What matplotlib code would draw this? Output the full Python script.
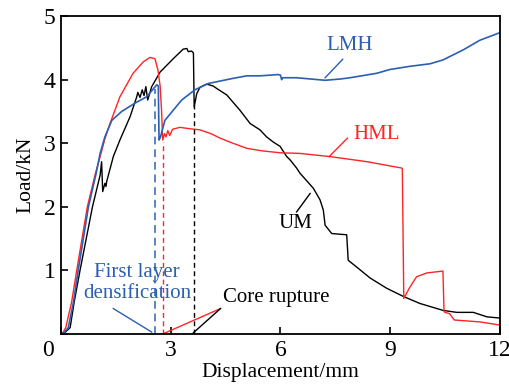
import matplotlib
matplotlib.use("Agg")
from matplotlib import pyplot as plt
import numpy as np

plt.rcParams['font.family'] = ['Liberation Serif', 'DejaVu Serif']

# HML curve (red)
hml_x = [0, 0.06, 0.13, 0.29, 0.43, 0.72, 0.93, 1.07, 1.2, 1.34, 1.61, 1.97, 2.25, 2.43, 2.57,
         2.65, 2.71, 2.75, 2.78, 2.83, 2.87, 2.92, 2.97, 3.05, 3.25, 3.5, 3.8, 4.1, 4.35,
         4.7, 5.08, 5.5, 5.99, 6.53, 7.35, 8.36, 9.31, 9.33, 9.37, 9.54, 9.72, 10.0, 10.44,
         10.47, 10.5, 10.62, 10.75, 11.45, 12.0]
hml_y = [0, 0.03, 0.1, 0.5, 1.0, 2.0, 2.5, 2.79, 3.07, 3.31, 3.73, 4.1, 4.28, 4.35, 4.33,
         4.15, 3.9, 3.5, 3.05, 3.15, 3.1, 3.2, 3.12, 3.22, 3.25, 3.23, 3.21, 3.15, 3.08,
         3.0, 2.92, 2.88, 2.85, 2.84, 2.79, 2.71, 2.61, 2.6, 0.56, 0.74, 0.90, 0.96, 0.99,
         0.35, 0.34, 0.32, 0.22, 0.19, 0.14]

# LMH curve (blue)
lmh_x = [0, 0.08, 0.2, 0.34, 0.47, 0.75, 0.95, 1.07, 1.2, 1.39, 1.66, 2.02, 2.34, 2.62,
         2.66, 2.68, 2.72, 2.84, 3.3, 3.66, 4.03, 4.7, 5.08, 5.44, 5.94, 6.0, 6.03, 6.06,
         6.44, 7.22, 7.63, 7.9, 8.63, 8.99, 9.54, 10.09, 10.44, 11.0, 11.45, 12.0]
lmh_y = [0, 0.02, 0.1, 0.5, 1.0, 2.0, 2.5, 2.84, 3.1, 3.36, 3.5, 3.63, 3.73, 3.92,
         3.9, 3.05, 3.1, 3.36, 3.68, 3.84, 3.94, 4.02, 4.06, 4.06, 4.08, 4.07, 4.0, 4.03,
         4.03, 3.99, 4.01, 4.03, 4.1, 4.16, 4.21, 4.25, 4.31, 4.47, 4.62, 4.74]

# UM curve (black)
um_x = [0, 0.1, 0.25, 0.36, 0.52, 0.86, 1.07, 1.11, 1.14, 1.2, 1.23, 1.25, 1.43, 1.61,
        1.89, 2.07, 2.1, 2.16, 2.22, 2.27, 2.32, 2.37, 2.48, 2.71, 3.07, 3.34, 3.44, 3.48,
        3.57, 3.62, 3.64, 3.71, 3.8, 3.98, 4.16, 4.26, 4.53, 4.89, 5.17, 5.44, 5.62, 5.8,
        5.99, 6.17, 6.26, 6.44, 6.53, 6.9, 7.08, 7.17, 7.22, 7.4, 7.81, 7.85, 8.13, 8.45,
        8.9, 9.36, 9.81, 10.45, 10.82, 11.27, 11.64, 12.0]
um_y = [0, 0.02, 0.1, 0.5, 1.0, 2.0, 2.5, 2.71, 2.24, 2.37, 2.32, 2.4, 2.79, 3.05,
        3.42, 3.73, 3.8, 3.72, 3.84, 3.75, 3.89, 3.68, 3.89, 4.12, 4.33, 4.48, 4.49, 4.44,
        4.45, 4.42, 3.57, 3.78, 3.88, 3.93, 3.9, 3.86, 3.76, 3.52, 3.31, 3.21, 3.1, 3.02,
        2.95, 2.79, 2.74, 2.61, 2.53, 2.29, 2.11, 1.95, 1.71, 1.58, 1.56, 1.16, 1.03, 0.88,
        0.72, 0.59, 0.48, 0.37, 0.34, 0.34, 0.27, 0.25]

# failure markers (x position, top of dashed line)
densification_x, densification_top = 2.57, 3.85
hml_drop_x, hml_drop_top = 2.78, 3.02
rupture_x, rupture_top = 3.64, 3.6

red = '#ff2424'
blue = '#2b5fb3'

fig = plt.figure(figsize=(5.1, 3.92), dpi=100)
ax = fig.add_axes([0.1196, 0.148, 0.8608, 0.811])

ax.plot(um_x, um_y, color='black', lw=1.0)
ax.plot(hml_x, hml_y, color=red, lw=1.0)
ax.plot(lmh_x, lmh_y, color=blue, lw=1.2)

ax.plot([densification_x, densification_x], [0, densification_top], color='#5a84c4',
        lw=1.4, dashes=(4, 2.5))
ax.plot([hml_drop_x, hml_drop_x], [0, hml_drop_top], color=red, lw=1.0, dashes=(3.5, 2.5))
ax.plot([rupture_x, rupture_x], [0, rupture_top], color='black', lw=1.0, dashes=(3.5, 2.5))

# labels with leader lines
ax.text(7.9, 4.53, 'LMH', color=blue, fontsize=15, ha='center', va='center')
ax.plot([7.70, 7.22], [4.32, 4.03], color=blue, lw=1.0)
ax.text(8.63, 3.13, 'HML', color=red, fontsize=15, ha='center', va='center')
ax.plot([7.83, 7.33], [3.08, 2.79], color=red, lw=1.0)
ax.text(6.40, 1.74, 'UM', color='black', fontsize=15, ha='center', va='center')
ax.plot([6.44, 6.81], [1.92, 2.21], color='black', lw=1.0)

ax.text(2.08, 0.80, 'First layer\ndensification', color=blue, fontsize=15,
        ha='center', va='center', linespacing=1.1)
ax.plot([1.43, 2.48], [0.40, 0.03], color=blue, lw=1.0)
ax.text(5.88, 0.58, 'Core rupture', color='black', fontsize=15, ha='center', va='center')
ax.plot([2.78, 4.36], [0.0, 0.40], color=red, lw=1.0)
ax.plot([3.62, 4.36], [0.02, 0.40], color='black', lw=1.0)

ax.set_xlim(0, 12)
ax.set_ylim(0, 5)
ax.set_xticks([0, 3, 6, 9, 12])
ax.set_xticklabels(['', '3', '6', '9', '12'])
ax.set_yticks([0, 1, 2, 3, 4, 5])
ax.set_yticklabels(['', '1', '2', '3', '4', '5'])
ax.text(-0.03, -0.018, '0', transform=ax.transAxes, fontsize=17, ha='center', va='top')
ax.tick_params(direction='in', length=5, width=1.2, labelsize=17, pad=4)
for s in ax.spines.values():
    s.set_linewidth(1.3)
ax.set_xlabel('Displacement/mm', fontsize=15.5, labelpad=2)
ax.set_ylabel('Load/kN', fontsize=15.5, labelpad=6)

plt.savefig('out.png', dpi=100)
